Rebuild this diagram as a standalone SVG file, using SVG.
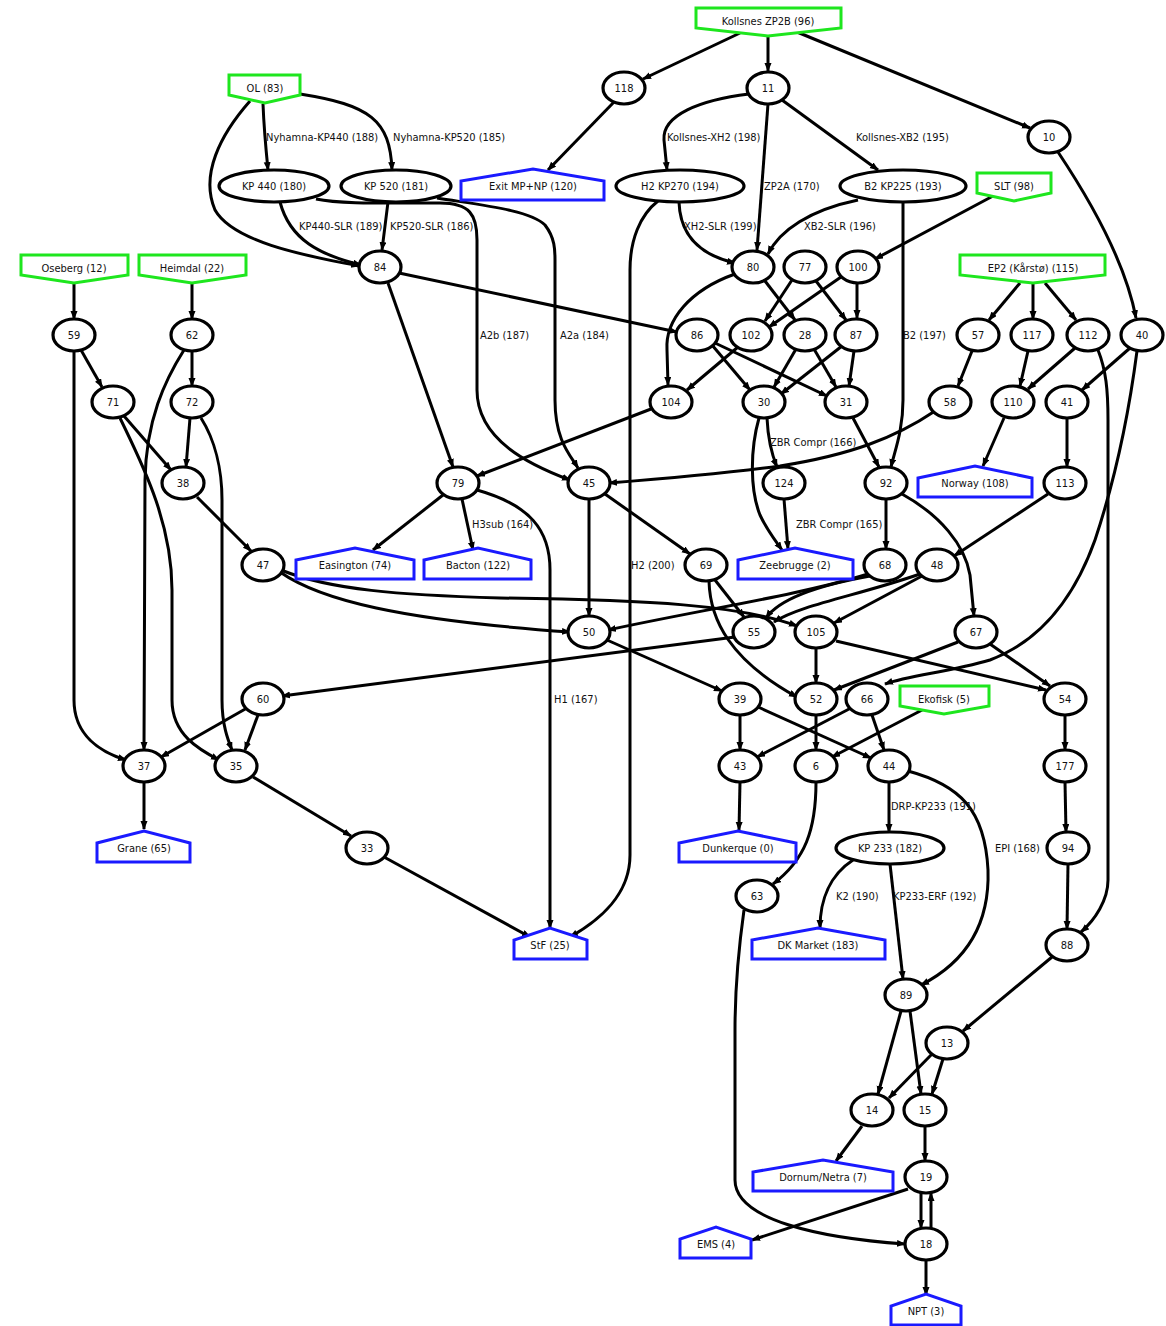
<svg xmlns="http://www.w3.org/2000/svg" width="1166" height="1326" viewBox="0 0 1166 1326">
<defs>
<marker id="ah" markerUnits="userSpaceOnUse" markerWidth="10" markerHeight="8" refX="8" refY="3.5" orient="auto">
<path d="M0,0 L9,3.5 L0,7 z" fill="#000"/>
</marker>
<style>
text{font-family:"DejaVu Sans Condensed","DejaVu Sans","Liberation Sans",sans-serif;font-size:11px;fill:#111;text-anchor:middle}
.e path{fill:none;stroke:#000;stroke-width:3;marker-end:url(#ah)}
.el text{text-anchor:start}
ellipse{fill:#fff;stroke:#000;stroke-width:3.2}
.src polygon{fill:#fff;stroke:#1ee61e;stroke-width:3}
.snk polygon{fill:#fff;stroke:#1a1aff;stroke-width:3}
</style>
</defs>
<rect width="1166" height="1326" fill="#fff"/>
<g id="edges" class="e">
<path d="M740,33 L643,79"/>
<path d="M768,36 L768,71"/>
<path d="M797,32 L1030,128"/>
<path d="M263,104 C264,130 266,150 268,170"/>
<path d="M300,94 C370,105 390,120 392,170"/>
<path d="M250,101 C220,135 200,175 215,210 C235,245 320,258 359,266"/>
<path d="M614,102 L548,170"/>
<path d="M749,94 C700,100 662,115 664,140 L667,170"/>
<path d="M768,104 L757,250"/>
<path d="M782,100 L878,170"/>
<path d="M1058,152 C1090,200 1125,260 1136,318"/>
<path d="M280,202 C290,240 320,255 361,265"/>
<path d="M388,202 L382,250"/>
<path d="M316,199 C340,204 380,203 440,203 C470,203 477,215 477,240 L477,390 C477,440 530,465 570,480"/>
<path d="M437,198 C480,205 530,210 545,225 C555,238 555,250 555,260 L555,400 C555,440 570,455 578,468"/>
<path d="M679,202 C680,235 700,255 735,263"/>
<path d="M658,201 C640,215 630,240 630,270 L630,855 C630,895 600,920 570,937"/>
<path d="M858,200 C810,210 780,230 768,254"/>
<path d="M903,202 L903,400 C903,430 895,450 891,467"/>
<path d="M993,196 L875,259"/>
<path d="M399,273 L677,332"/>
<path d="M388,283 L453,467"/>
<path d="M735,274 C690,290 665,320 667,350 L668,385"/>
<path d="M765,281 L795,320"/>
<path d="M792,280 L765,321"/>
<path d="M816,281 L846,320"/>
<path d="M841,277 L769,327"/>
<path d="M857,283 L857,318"/>
<path d="M712,345 L750,390"/>
<path d="M715,343 L827,396"/>
<path d="M738,347 L687,390"/>
<path d="M796,349 L774,387"/>
<path d="M814,349 L836,387"/>
<path d="M842,346 L781,394"/>
<path d="M854,351 L849,386"/>
<path d="M651,409 L477,476"/>
<path d="M767,418 C768,440 772,455 777,467"/>
<path d="M759,418 C750,450 750,490 760,515 C767,530 775,540 782,550"/>
<path d="M853,418 L879,467"/>
<path d="M935,411 C895,438 850,455 780,466 C720,474 660,479 609,483"/>
<path d="M972,351 L958,386"/>
<path d="M1028,351 L1020,386"/>
<path d="M1075,348 L1028,389"/>
<path d="M1098,350 C1106,370 1108,390 1108,420 L1108,880 C1108,900 1095,920 1081,932"/>
<path d="M1130,348 L1082,390"/>
<path d="M1137,351 C1128,420 1115,480 1095,540 C1070,610 1030,645 990,660 C950,672 910,675 885,684"/>
<path d="M1004,418 L983,466"/>
<path d="M1067,418 L1067,467"/>
<path d="M1048,494 L954,556"/>
<path d="M81,350 L102,387"/>
<path d="M74,351 L74,700 C74,735 100,752 126,760"/>
<path d="M192,351 L192,386"/>
<path d="M184,350 C165,380 146,420 145,480 L144,750"/>
<path d="M124,416 L171,470"/>
<path d="M120,418 C140,460 172,520 172,590 L172,700 C172,735 200,750 219,760"/>
<path d="M190,418 L186,467"/>
<path d="M201,418 C215,440 222,470 222,500 L222,700 C222,725 228,740 232,750"/>
<path d="M74,284 L74,319"/>
<path d="M192,284 L192,319"/>
<path d="M1020,283 L989,320"/>
<path d="M1033,284 L1033,319"/>
<path d="M1045,283 L1076,320"/>
<path d="M197,497 L251,551"/>
<path d="M443,495 L373,550"/>
<path d="M462,499 L473,550"/>
<path d="M477,490 C530,505 550,530 550,570 L550,928"/>
<path d="M589,499 L589,616"/>
<path d="M605,494 L690,554"/>
<path d="M784,499 L788,549"/>
<path d="M886,499 L886,549"/>
<path d="M902,494 C940,515 965,545 970,575 L974,616"/>
<path d="M280,572 C320,600 400,620 570,632"/>
<path d="M281,570 C330,590 400,595 500,598 C650,600 740,605 797,626"/>
<path d="M715,580 L744,617"/>
<path d="M709,581 C710,620 730,660 797,697"/>
<path d="M868,574 C800,595 700,610 608,630"/>
<path d="M870,576 C820,585 780,598 766,618"/>
<path d="M920,574 C860,595 800,605 774,622"/>
<path d="M922,576 L834,623"/>
<path d="M607,640 L722,691"/>
<path d="M735,637 L282,696"/>
<path d="M816,648 L816,683"/>
<path d="M836,641 L1046,690"/>
<path d="M958,642 L834,690"/>
<path d="M990,644 L1050,686"/>
<path d="M247,708 L161,757"/>
<path d="M258,715 L245,750"/>
<path d="M144,782 L144,829"/>
<path d="M253,777 L351,836"/>
<path d="M384,857 L530,937"/>
<path d="M740,715 L740,750"/>
<path d="M758,707 L871,758"/>
<path d="M816,715 L816,750"/>
<path d="M851,708 L757,757"/>
<path d="M872,715 L884,750"/>
<path d="M924,709 L832,757"/>
<path d="M1065,715 L1065,750"/>
<path d="M740,782 L739,830"/>
<path d="M816,782 C816,830 805,860 773,884"/>
<path d="M889,782 L889,832"/>
<path d="M908,771 C960,785 985,810 988,870 C990,930 960,965 921,985"/>
<path d="M1065,782 L1066,832"/>
<path d="M853,860 C830,875 820,900 820,928"/>
<path d="M890,864 L903,979"/>
<path d="M1068,864 L1067,929"/>
<path d="M744,910 C737,960 735,1000 735,1030 L735,1180 C735,1220 820,1238 905,1244"/>
<path d="M1052,957 L963,1031"/>
<path d="M901,1011 L878,1094"/>
<path d="M910,1011 L921,1094"/>
<path d="M932,1054 L889,1098"/>
<path d="M943,1059 L932,1094"/>
<path d="M862,1126 L836,1161"/>
<path d="M925,1126 L925,1161"/>
<path d="M908,1189 L752,1240"/>
<path d="M921,1193 L921,1228"/>
<path d="M931,1228 L931,1193"/>
<path d="M926,1260 L926,1295"/>
</g>
<g id="edge-labels" class="el">
<text x="266" y="141">Nyhamna-KP440 (188)</text>
<text x="393" y="141">Nyhamna-KP520 (185)</text>
<text x="667" y="141">Kollsnes-XH2 (198)</text>
<text x="856" y="141">Kollsnes-XB2 (195)</text>
<text x="764" y="190">ZP2A (170)</text>
<text x="299" y="230">KP440-SLR (189)</text>
<text x="390" y="230">KP520-SLR (186)</text>
<text x="684" y="230">XH2-SLR (199)</text>
<text x="804" y="230">XB2-SLR (196)</text>
<text x="480" y="339">A2b (187)</text>
<text x="560" y="339">A2a (184)</text>
<text x="903" y="339">B2 (197)</text>
<text x="770" y="446">ZBR Compr (166)</text>
<text x="472" y="528">H3sub (164)</text>
<text x="796" y="528">ZBR Compr (165)</text>
<text x="631" y="569">H2 (200)</text>
<text x="554" y="703">H1 (167)</text>
<text x="891" y="810">DRP-KP233 (191)</text>
<text x="995" y="852">EPI (168)</text>
<text x="836" y="900">K2 (190)</text>
<text x="893" y="900">KP233-ERF (192)</text>
</g>
<g id="n96" class="src"><polygon points="696,8 841,8 841,28 768,36 696,28"/><text x="768" y="25">Kollsnes ZP2B (96)</text></g>
<g id="n83" class="src"><polygon points="229,75 300,75 300,95 265,103 229,95"/><text x="265" y="92">OL (83)</text></g>
<g id="n98" class="src"><polygon points="977,173 1051,173 1051,193 1014,201 977,193"/><text x="1014" y="190">SLT (98)</text></g>
<g id="n12" class="src"><polygon points="21,255 128,255 128,275 74,283 21,275"/><text x="74" y="272">Oseberg (12)</text></g>
<g id="n22" class="src"><polygon points="139,255 246,255 246,275 192,283 139,275"/><text x="192" y="272">Heimdal (22)</text></g>
<g id="n115" class="src"><polygon points="960,255 1105,255 1105,275 1033,283 960,275"/><text x="1033" y="272">EP2 (Kårstø) (115)</text></g>
<g id="n5" class="src"><polygon points="900,686 989,686 989,706 944,714 900,706"/><text x="944" y="703">Ekofisk (5)</text></g>
<g id="n120" class="snk"><polygon points="461,200 604,200 604,181 533,169 461,181"/><text x="533" y="190">Exit MP+NP (120)</text></g>
<g id="n108" class="snk"><polygon points="918,497 1032,497 1032,478 975,466 918,478"/><text x="975" y="487">Norway (108)</text></g>
<g id="n74" class="snk"><polygon points="296,579 414,579 414,560 355,548 296,560"/><text x="355" y="569">Easington (74)</text></g>
<g id="n122" class="snk"><polygon points="424,579 531,579 531,560 478,548 424,560"/><text x="478" y="569">Bacton (122)</text></g>
<g id="n2" class="snk"><polygon points="738,579 853,579 853,560 795,548 738,560"/><text x="795" y="569">Zeebrugge (2)</text></g>
<g id="n65" class="snk"><polygon points="97,862 190,862 190,843 144,831 97,843"/><text x="144" y="852">Grane (65)</text></g>
<g id="n0" class="snk"><polygon points="679,862 796,862 796,843 738,831 679,843"/><text x="738" y="852">Dunkerque (0)</text></g>
<g id="n25" class="snk"><polygon points="514,959 587,959 587,940 550,928 514,940"/><text x="550" y="949">StF (25)</text></g>
<g id="n183" class="snk"><polygon points="752,959 885,959 885,940 818,928 752,940"/><text x="818" y="949">DK Market (183)</text></g>
<g id="n7" class="snk"><polygon points="753,1191 893,1191 893,1172 823,1160 753,1172"/><text x="823" y="1181">Dornum/Netra (7)</text></g>
<g id="n4" class="snk"><polygon points="680,1258 751,1258 751,1239 716,1227 680,1239"/><text x="716" y="1248">EMS (4)</text></g>
<g id="n3" class="snk"><polygon points="891,1325 961,1325 961,1306 926,1294 891,1306"/><text x="926" y="1315">NPT (3)</text></g>
<g id="n180"><ellipse cx="274" cy="186" rx="55" ry="16"/><text x="274" y="190">KP 440 (180)</text></g>
<g id="n181"><ellipse cx="396" cy="186" rx="55" ry="16"/><text x="396" y="190">KP 520 (181)</text></g>
<g id="n194"><ellipse cx="680" cy="186" rx="64" ry="16"/><text x="680" y="190">H2 KP270 (194)</text></g>
<g id="n193"><ellipse cx="903" cy="186" rx="63" ry="16"/><text x="903" y="190">B2 KP225 (193)</text></g>
<g id="n182"><ellipse cx="890" cy="848" rx="54" ry="16"/><text x="890" y="852">KP 233 (182)</text></g>
<g id="n118"><ellipse cx="624" cy="88" rx="21" ry="16"/><text x="624" y="92">118</text></g>
<g id="n11"><ellipse cx="768" cy="88" rx="21" ry="16"/><text x="768" y="92">11</text></g>
<g id="n10"><ellipse cx="1049" cy="137" rx="21" ry="16"/><text x="1049" y="141">10</text></g>
<g id="n84"><ellipse cx="380" cy="267" rx="21" ry="16"/><text x="380" y="271">84</text></g>
<g id="n80"><ellipse cx="753" cy="267" rx="21" ry="16"/><text x="753" y="271">80</text></g>
<g id="n77"><ellipse cx="805" cy="267" rx="21" ry="16"/><text x="805" y="271">77</text></g>
<g id="n100"><ellipse cx="858" cy="267" rx="21" ry="16"/><text x="858" y="271">100</text></g>
<g id="n59"><ellipse cx="74" cy="335" rx="21" ry="16"/><text x="74" y="339">59</text></g>
<g id="n62"><ellipse cx="192" cy="335" rx="21" ry="16"/><text x="192" y="339">62</text></g>
<g id="n86"><ellipse cx="697" cy="335" rx="21" ry="16"/><text x="697" y="339">86</text></g>
<g id="n102"><ellipse cx="751" cy="335" rx="21" ry="16"/><text x="751" y="339">102</text></g>
<g id="n28"><ellipse cx="805" cy="335" rx="21" ry="16"/><text x="805" y="339">28</text></g>
<g id="n87"><ellipse cx="856" cy="335" rx="21" ry="16"/><text x="856" y="339">87</text></g>
<g id="n57"><ellipse cx="978" cy="335" rx="21" ry="16"/><text x="978" y="339">57</text></g>
<g id="n117"><ellipse cx="1032" cy="335" rx="21" ry="16"/><text x="1032" y="339">117</text></g>
<g id="n112"><ellipse cx="1088" cy="335" rx="21" ry="16"/><text x="1088" y="339">112</text></g>
<g id="n40"><ellipse cx="1142" cy="335" rx="21" ry="16"/><text x="1142" y="339">40</text></g>
<g id="n71"><ellipse cx="113" cy="402" rx="21" ry="16"/><text x="113" y="406">71</text></g>
<g id="n72"><ellipse cx="192" cy="402" rx="21" ry="16"/><text x="192" y="406">72</text></g>
<g id="n104"><ellipse cx="671" cy="402" rx="21" ry="16"/><text x="671" y="406">104</text></g>
<g id="n30"><ellipse cx="764" cy="402" rx="21" ry="16"/><text x="764" y="406">30</text></g>
<g id="n31"><ellipse cx="846" cy="402" rx="21" ry="16"/><text x="846" y="406">31</text></g>
<g id="n58"><ellipse cx="950" cy="402" rx="21" ry="16"/><text x="950" y="406">58</text></g>
<g id="n110"><ellipse cx="1013" cy="402" rx="21" ry="16"/><text x="1013" y="406">110</text></g>
<g id="n41"><ellipse cx="1067" cy="402" rx="21" ry="16"/><text x="1067" y="406">41</text></g>
<g id="n38"><ellipse cx="183" cy="483" rx="21" ry="16"/><text x="183" y="487">38</text></g>
<g id="n79"><ellipse cx="458" cy="483" rx="21" ry="16"/><text x="458" y="487">79</text></g>
<g id="n45"><ellipse cx="589" cy="483" rx="21" ry="16"/><text x="589" y="487">45</text></g>
<g id="n124"><ellipse cx="784" cy="483" rx="21" ry="16"/><text x="784" y="487">124</text></g>
<g id="n92"><ellipse cx="886" cy="483" rx="21" ry="16"/><text x="886" y="487">92</text></g>
<g id="n113"><ellipse cx="1065" cy="483" rx="21" ry="16"/><text x="1065" y="487">113</text></g>
<g id="n47"><ellipse cx="263" cy="565" rx="21" ry="16"/><text x="263" y="569">47</text></g>
<g id="n69"><ellipse cx="706" cy="565" rx="21" ry="16"/><text x="706" y="569">69</text></g>
<g id="n68"><ellipse cx="885" cy="565" rx="21" ry="16"/><text x="885" y="569">68</text></g>
<g id="n48"><ellipse cx="937" cy="565" rx="21" ry="16"/><text x="937" y="569">48</text></g>
<g id="n50"><ellipse cx="589" cy="632" rx="21" ry="16"/><text x="589" y="636">50</text></g>
<g id="n55"><ellipse cx="754" cy="632" rx="21" ry="16"/><text x="754" y="636">55</text></g>
<g id="n105"><ellipse cx="816" cy="632" rx="21" ry="16"/><text x="816" y="636">105</text></g>
<g id="n67"><ellipse cx="976" cy="632" rx="21" ry="16"/><text x="976" y="636">67</text></g>
<g id="n60"><ellipse cx="263" cy="699" rx="21" ry="16"/><text x="263" y="703">60</text></g>
<g id="n39"><ellipse cx="740" cy="699" rx="21" ry="16"/><text x="740" y="703">39</text></g>
<g id="n52"><ellipse cx="816" cy="699" rx="21" ry="16"/><text x="816" y="703">52</text></g>
<g id="n66"><ellipse cx="867" cy="699" rx="21" ry="16"/><text x="867" y="703">66</text></g>
<g id="n54"><ellipse cx="1065" cy="699" rx="21" ry="16"/><text x="1065" y="703">54</text></g>
<g id="n37"><ellipse cx="144" cy="766" rx="21" ry="16"/><text x="144" y="770">37</text></g>
<g id="n35"><ellipse cx="236" cy="766" rx="21" ry="16"/><text x="236" y="770">35</text></g>
<g id="n43"><ellipse cx="740" cy="766" rx="21" ry="16"/><text x="740" y="770">43</text></g>
<g id="n6"><ellipse cx="816" cy="766" rx="21" ry="16"/><text x="816" y="770">6</text></g>
<g id="n44"><ellipse cx="889" cy="766" rx="21" ry="16"/><text x="889" y="770">44</text></g>
<g id="n177"><ellipse cx="1065" cy="766" rx="21" ry="16"/><text x="1065" y="770">177</text></g>
<g id="n33"><ellipse cx="367" cy="848" rx="21" ry="16"/><text x="367" y="852">33</text></g>
<g id="n94"><ellipse cx="1068" cy="848" rx="21" ry="16"/><text x="1068" y="852">94</text></g>
<g id="n63"><ellipse cx="757" cy="896" rx="21" ry="16"/><text x="757" y="900">63</text></g>
<g id="n88"><ellipse cx="1067" cy="945" rx="21" ry="16"/><text x="1067" y="949">88</text></g>
<g id="n89"><ellipse cx="906" cy="995" rx="21" ry="16"/><text x="906" y="999">89</text></g>
<g id="n13"><ellipse cx="947" cy="1043" rx="21" ry="16"/><text x="947" y="1047">13</text></g>
<g id="n14"><ellipse cx="872" cy="1110" rx="21" ry="16"/><text x="872" y="1114">14</text></g>
<g id="n15"><ellipse cx="925" cy="1110" rx="21" ry="16"/><text x="925" y="1114">15</text></g>
<g id="n19"><ellipse cx="926" cy="1177" rx="21" ry="16"/><text x="926" y="1181">19</text></g>
<g id="n18"><ellipse cx="926" cy="1244" rx="21" ry="16"/><text x="926" y="1248">18</text></g>
</svg>
